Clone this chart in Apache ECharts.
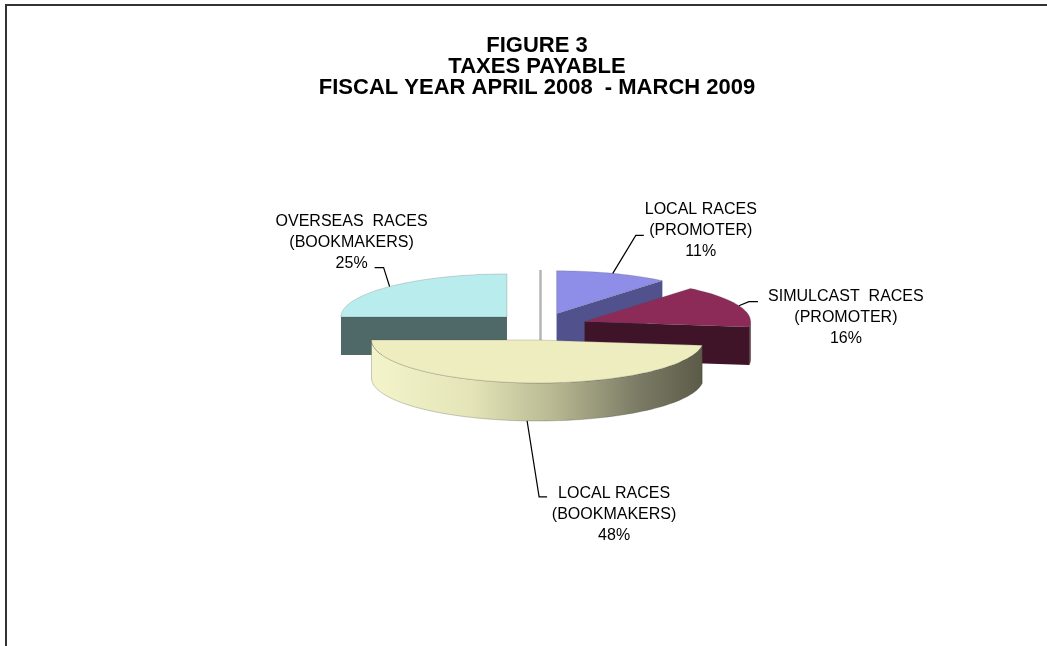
<!DOCTYPE html>
<html>
<head>
<meta charset="utf-8">
<script src="https://cdn.jsdelivr.net/npm/echarts@6/dist/echarts.min.js"></script>
<style>
  html, body { margin: 0; padding: 0; background: #fff; }
  #chart { width: 1047px; height: 646px; }
</style>
</head>
<body>
<div id="chart"></div>
<script>
// ---- data ----
const titleLines = ['FIGURE 3', 'TAXES PAYABLE', 'FISCAL YEAR APRIL 2008  - MARCH 2009'];
const categories = ['LOCAL RACES\n(PROMOTER)', 'SIMULCAST  RACES\n(PROMOTER)', 'LOCAL RACES\n(BOOKMAKERS)', 'OVERSEAS  RACES\n(BOOKMAKERS)', ''];
const values = [11, 16, 48, 25, 0];

// ---- style ----
const topColors = ['#8e8ee8', '#8c2b58', '#ededc0', '#b9ecec', '#b4b4b4'];
const sideColors = ['#51518d', '#3f1428', null, '#4f6868', '#b4b4b4'];
const labelFont = '16px "Liberation Sans", Arial, sans-serif';
// label layout relative to the attachment point: [bendDx, bendDy, endDx, endDy, textDx, textDy]
const labelLayout = [
  [23, -38, 31, -38, 88, -43],
  [10, -4, 19, -4, 107, 12],
  [12, 76, 20, 76, 87, 94],
  [-6, -19, -15, -19, -38, -44],
  null
];

const CX = 540.5, CY = 326.5, RX = 166, RY = 43, DEPTH = 38, EX = 47.4, EY = 13.5;
const total = values.reduce((s, v) => s + v, 0);
const startAngles = [];
values.reduce((acc, v) => { startAngles.push(acc); return acc + v / total * 360; }, 0);
const D = Math.PI / 180;

function renderItem(params, api) {
  const i = params.dataIndex;
  const v = api.value(0);
  const a0 = startAngles[i];
  const a1 = a0 + v / total * 360;
  const mid = (a0 + a1) / 2;
  const ox = CX + EX * Math.sin(mid * D);
  const oy = CY - EY * Math.cos(mid * D);
  const P = (t, d) => [ox + RX * Math.sin(t * D), oy - RY * Math.cos(t * D) + (d || 0)];
  const zb = Math.round(oy * 10);
  const children = [];
  const side = sideColors[i] || {
    type: 'linear', x: ox - RX, y: 0, x2: ox + RX, y2: 0, global: true,
    colorStops: [
      { offset: 0, color: '#f4f4cb' },
      { offset: 0.3, color: '#e4e4b8' },
      { offset: 0.55, color: '#b8b892' },
      { offset: 0.8, color: '#7c7c66' },
      { offset: 1, color: '#5a5a47' }
    ]
  };
  if (v === 0) {
    const top = P(a0);
    children.push({
      type: 'line', z2: zb,
      shape: { x1: top[0], y1: top[1], x2: ox, y2: oy + DEPTH },
      style: { stroke: topColors[i], lineWidth: 2.5 }
    });
    return { type: 'group', children };
  }
  // radial walls
  if (Math.sin(a0 * D) < -1e-3) {
    const e = P(a0);
    children.push({ type: 'polygon', z2: zb,
      shape: { points: [[ox, oy], e, [e[0], e[1] + DEPTH], [ox, oy + DEPTH]] },
      style: { fill: side } });
  }
  if (Math.sin(a1 * D) > 1e-3) {
    const e = P(a1);
    children.push({ type: 'polygon', z2: zb,
      shape: { points: [[ox, oy], e, [e[0], e[1] + DEPTH], [ox, oy + DEPTH]] },
      style: { fill: side } });
  }
  // outer curved wall (front half only)
  const f0 = Math.max(a0, 90), f1 = Math.min(a1, 270);
  if (f1 > f0) {
    const up = [], dn = [];
    const n = Math.max(2, Math.ceil((f1 - f0) / 2));
    for (let k = 0; k <= n; k++) {
      const t = f0 + (f1 - f0) * k / n;
      up.push(P(t));
      dn.unshift(P(t, DEPTH));
    }
    children.push({ type: 'polygon', z2: zb + 1,
      shape: { points: up.concat(dn) },
      style: { fill: side, stroke: 'rgba(60,60,50,0.45)', lineWidth: 0.6 } });
  }
  // top face
  const pts = [[ox, oy]];
  const n = Math.max(2, Math.ceil((a1 - a0) / 2));
  for (let k = 0; k <= n; k++) pts.push(P(a0 + (a1 - a0) * k / n));
  children.push({ type: 'polygon', z2: zb + 2,
    shape: { points: pts },
    style: { fill: topColors[i], stroke: 'rgba(70,70,70,0.35)', lineWidth: 0.6 } });

  // label with leader line
  const L = labelLayout[i];
  if (L) {
    const isFront = Math.cos(mid * D) < -0.5;
    const at = isFront ? P(mid, DEPTH) : P(mid);
    children.push({ type: 'polyline', z2: 5000,
      shape: { points: [at, [at[0] + L[0], at[1] + L[1]], [at[0] + L[2], at[1] + L[3]]] },
      style: { stroke: '#000', lineWidth: 1.2, fill: null } });
    children.push({ type: 'text', z2: 5000,
      style: {
        text: categories[i] + '\n' + v + '%',
        x: at[0] + L[4], y: at[1] + L[5],
        align: 'center', verticalAlign: 'middle',
        textAlign: 'center', textVerticalAlign: 'middle',
        font: labelFont, lineHeight: 21, fill: '#000'
      } });
  }
  return { type: 'group', children };
}

const chart = echarts.init(document.getElementById('chart'), null, { renderer: 'canvas' });
chart.setOption({
  animation: false,
  backgroundColor: '#ffffff',
  graphic: [
    { type: 'rect', shape: { x: 6, y: 5, width: 1200, height: 800 },
      style: { fill: null, stroke: '#333', lineWidth: 2 } },
    { type: 'text', x: 537, y: 67,
      style: {
        text: titleLines.join('\n'),
        align: 'center', verticalAlign: 'middle',
        textAlign: 'center', textVerticalAlign: 'middle',
        font: 'bold 22px "Liberation Sans", Arial, sans-serif', lineHeight: 21, fill: '#000'
      } }
  ],
  series: [{
    type: 'custom',
    coordinateSystem: 'none',
    renderItem: renderItem,
    data: values.map(v => [v])
  }]
});
</script>
</body>
</html>
